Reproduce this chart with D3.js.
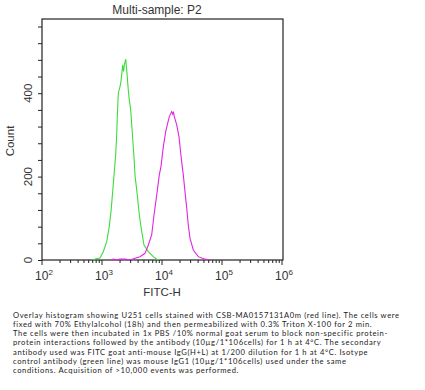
<!DOCTYPE html>
<html>
<head>
<meta charset="utf-8">
<script src="https://cdn.jsdelivr.net/npm/d3@7"></script>
<style>
  html, body { margin: 0; padding: 0; background: #fff; }
  svg { display: block; }
</style>
</head>
<body>
<div id="chart"></div>
<script>
// isotype control (green) : [log10 FITC-H, count]
const isotypeLog = [2.83, 2.90, 2.967, 3.022, 3.078, 3.117, 3.15, 3.178, 3.205, 3.228, 3.245, 3.255, 3.272, 3.30, 3.312, 3.328, 3.345, 3.36, 3.375, 3.395, 3.412, 3.438, 3.455, 3.478, 3.505, 3.533, 3.55, 3.588, 3.622, 3.662, 3.70, 3.772, 3.855, 3.912, 3.967]
const isotypeCount = [0, 3, 5, 20, 44, 76, 116, 164, 212, 252, 300, 344, 400, 416, 424, 444, 468, 452, 470, 482, 456, 408, 384, 360, 305, 248, 204, 156, 108, 68, 36, 20, 8, 2, 0]

// antibody stained (magenta)
const stainedLog = [3.15, 3.19, 3.25, 3.3, 3.383, 3.467, 3.55, 3.633, 3.717, 3.772, 3.828, 3.867, 3.912, 3.955, 3.983, 4.022, 4.062, 4.088, 4.122, 4.162, 4.178, 4.192, 4.205, 4.245, 4.283, 4.312, 4.338, 4.355, 4.383, 4.412, 4.438, 4.467, 4.522, 4.605, 4.717, 4.8]
const stainedCount = [0, 2, 0, 2, 2, 0, 4, 8, 16, 36, 60, 108, 156, 204, 224, 272, 308, 324, 344, 356, 350, 354, 344, 324, 296, 256, 224, 204, 164, 124, 84, 52, 24, 8, 2, 0]

const yTicks = d3.range(0, 561, 40)
const yLabels = [0, 200, 400]
const decades = [2, 3, 4, 5, 6]

const captionLines = [
  'Overlay histogram showing U251 cells stained with CSB-MA0157131A0m (red line). The cells were',
  'fixed with 70% Ethylalcohol (18h) and then permeabilized with 0.3% Triton X-100 for 2 min.',
  'The cells were then incubated in 1x PBS /10% normal goat serum to block non-specific protein-',
  'protein interactions followed by the antibody (10\u00b5g/1*106cells) for 1 h at 4\u00b0C. The secondary',
  'antibody used was FITC goat anti-mouse IgG(H+L) at 1/200 dilution for 1 h at 4\u00b0C. Isotype',
  'control antibody (green line) was mouse IgG1 (10\u00b5g/1*106cells) used under the same',
  'conditions. Acquisition of >10,000 events was performed.'
]

const width = 425
const height = 390
const margin = {left: 42, right: 282, top: 19, bottom: 260}
const axisColor = '#222'
const font = 'Liberation Sans, Arial, sans-serif'

const svg = d3.select('#chart')
  .append('svg')
  .attr('width', width)
  .attr('height', height)

const x = d3.scaleLog()
  .domain([1e2, 1e6])
  .range([margin.left, margin.right])
const y = d3.scaleLinear()
  .domain([0, 578])
  .range([margin.bottom, margin.top])

// frame
svg.append('rect')
  .attr('x', margin.left)
  .attr('y', margin.top)
  .attr('width', margin.right + 1 - margin.left)
  .attr('height', margin.bottom - margin.top)
  .attr('fill', 'none')
  .attr('stroke', axisColor)
  .attr('stroke-width', 1.2)

// curves
const line = d3.line()
  .x(d => x(Math.pow(10, d[0])))
  .y(d => y(d[1]))

svg.append('path')
  .datum(isotypeLog.map((v, i) => [v, isotypeCount[i]]))
  .attr('d', line)
  .attr('fill', 'none')
  .attr('stroke', '#3ddc3d')
  .attr('stroke-width', 1.1)

svg.append('path')
  .datum(stainedLog.map((v, i) => [v, stainedCount[i]]))
  .attr('d', line)
  .attr('fill', 'none')
  .attr('stroke', '#e026e0')
  .attr('stroke-width', 1.1)

// y axis
const yAxis = svg.append('g')
  .attr('transform', `translate(${margin.left},0)`)
  .call(d3.axisLeft(y).tickValues(yTicks).tickSize(4).tickFormat(''))
yAxis.select('.domain').remove()
yAxis.selectAll('line').attr('stroke', axisColor)

svg.selectAll('.ylab')
  .data(yLabels)
  .enter()
  .append('text')
  .attr('class', 'ylab')
  .attr('transform', d => `translate(32,${y(d)})rotate(-90)`)
  .attr('text-anchor', 'middle')
  .attr('font-family', font)
  .attr('font-size', 11.5)
  .attr('fill', '#333')
  .text(d => d)

// x axis
const xTicks = []
decades.forEach(p => {
  for (let k = 1; k <= 9; k++) {
    const v = k * Math.pow(10, p)
    if (v <= 1e6) xTicks.push(v)
  }
})
svg.append('g')
  .selectAll('line')
  .data(xTicks)
  .enter()
  .append('line')
  .attr('x1', d => x(d))
  .attr('x2', d => x(d))
  .attr('y1', margin.bottom)
  .attr('y2', d => margin.bottom + (Math.abs(Math.log10(d) % 1) < 1e-9 ? 5 : 3))
  .attr('stroke', axisColor)

const xLab = svg.selectAll('.xlab')
  .data(decades)
  .enter()
  .append('text')
  .attr('class', 'xlab')
  .attr('x', d => x(Math.pow(10, d)) + 2)
  .attr('y', 280)
  .attr('text-anchor', 'middle')
  .attr('font-family', font)
  .attr('font-size', 12)
  .attr('fill', '#333')
xLab.append('tspan').text('10')
xLab.append('tspan')
  .attr('dy', -5)
  .attr('font-size', 8)
  .text(d => d)

// titles
svg.append('text')
  .attr('x', 157)
  .attr('y', 14)
  .attr('text-anchor', 'middle')
  .attr('font-family', font)
  .attr('font-size', 12)
  .attr('fill', '#333')
  .text('Multi-sample: P2')

svg.append('text')
  .attr('transform', 'translate(14,141)rotate(-90)')
  .attr('text-anchor', 'middle')
  .attr('font-family', font)
  .attr('font-size', 11.5)
  .attr('fill', '#333')
  .text('Count')

svg.append('text')
  .attr('x', 162)
  .attr('y', 296)
  .attr('text-anchor', 'middle')
  .attr('font-family', font)
  .attr('font-size', 11.5)
  .attr('fill', '#333')
  .text('FITC-H')

// caption: small type with a little letter spacing so line 1 spans the original width
const capSize = 7.6
const cap = svg.append('g')
  .attr('font-family', 'Lato, Open Sans, sans-serif')
  .attr('font-size', capSize)
  .attr('fill', '#222')
const lines = cap.selectAll('text')
  .data(captionLines)
  .enter()
  .append('text')
  .attr('x', 13)
  .attr('y', (d, i) => 317.5 + i * 9.25)
  .text(d => d)
const w0 = lines.node().getComputedTextLength()
const spacing = (386 - w0) / (captionLines[0].length - 1)
lines.attr('letter-spacing', Math.max(0, spacing))
</script>
</body>
</html>
